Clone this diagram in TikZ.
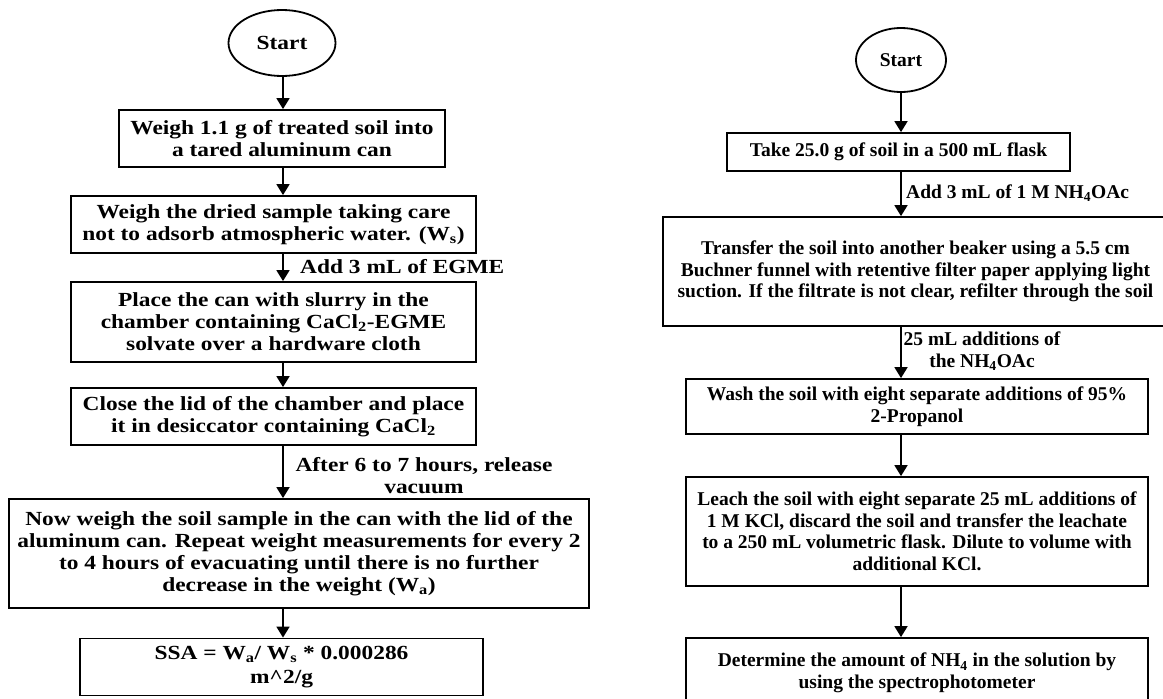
\documentclass[tikz,border=0pt]{standalone}
\usepackage{fontspec}
\setmainfont{Liberation Serif}
\newfontfamily\wideserif[FakeStretch=1.17]{Liberation Serif}
\usetikzlibrary{arrows.meta,shapes.geometric}

\begin{document}
\begin{tikzpicture}[x=1pt,y=-1pt,
  box/.style={draw, line width=1.8pt, inner sep=2pt, align=center},
  lfont/.style={font=\wideserif\bfseries\fontsize{20}{22}\selectfont},
  rfont/.style={font=\bfseries\fontsize{19.5}{21.5}\selectfont},
  lbox/.style={box, lfont},
  rbox/.style={box, rfont},
  term/.style={draw, ellipse, line width=1.8pt, inner sep=0pt},
  note/.style={inner sep=0pt, align=center},
  arr/.style={line width=1.8pt, -{Triangle[width=13pt,length=11pt]}}
]
\useasboundingbox (0,0) rectangle (1163,699);

% column axes for the connectors
\coordinate (colL) at (283,0);
\coordinate (colR) at (901,0);

% ---- left flow: specific surface area ----
\node[term, lfont, minimum width=107pt, minimum height=66pt] (s1) at (282,43) {Start};
\node[lbox, minimum width=326pt, minimum height=57pt] (b1) at (282,138.5)
  {Weigh 1.1 g of treated soil into\\a tared aluminum can};
\node[lbox, minimum width=405pt, minimum height=57pt] (b2) at (273.5,224.5)
  {Weigh the dried sample taking care\\not to adsorb atmospheric water. (W\textsubscript{s})};
\node[lbox, minimum width=405pt, minimum height=80pt] (b3) at (273.5,322)
  {Place the can with slurry in the\\chamber containing CaCl\textsubscript{2}-EGME\\solvate over a hardware cloth};
\node[lbox, minimum width=405pt, minimum height=57pt] (b4) at (273.5,416.5)
  {Close the lid of the chamber and place\\it in desiccator containing CaCl\textsubscript{2}};
\node[lbox, minimum width=580pt, minimum height=109pt] (b5) at (299,553.5)
  {Now weigh the soil sample in the can with the lid of the\\aluminum can. Repeat weight measurements for every 2\\to 4 hours of evacuating until there is no further\\decrease in the weight (W\textsubscript{a})};
\node[lbox, minimum width=403pt, minimum height=57pt] (b6) at (281.5,667)
  {SSA = W\textsubscript{a}/ W\textsubscript{s} * 0.000286\\[2pt]m\textasciicircum 2/g};

\draw[arr] (s1.south -| colL) -- (b1.north -| colL);
\draw[arr] (b1.south -| colL) -- (b2.north -| colL);
\draw[arr] (b2.south -| colL) -- (b3.north -| colL);
\draw[arr] (b3.south -| colL) -- (b4.north -| colL);
\draw[arr] (b4.south -| colL) -- (b5.north -| colL);
\draw[arr] (b5.south -| colL) -- (b6.north -| colL);

\node[note, lfont, anchor=west] (l1) at (300,267) {Add 3 mL of EGME};
\node[note, lfont] (l2) at (424,476) {After 6 to 7 hours, release\\vacuum};

% ---- right flow: cation exchange capacity ----
\node[term, rfont, minimum width=90pt, minimum height=64pt] (s2) at (901,60) {Start};
\node[rbox, minimum width=343pt, minimum height=38pt] (r1) at (898.5,152)
  {Take 25.0 g of soil in a 500 mL flask};
\node[rbox, minimum width=505pt, minimum height=109pt] (r2) at (915.5,271.5)
  {Transfer the soil into another beaker using a 5.5 cm\\Buchner funnel with retentive filter paper applying light\\suction. If the filtrate is not clear, refilter through the soil};
\node[rbox, minimum width=462pt, minimum height=55pt] (r3) at (917,406.5)
  {Wash the soil with eight separate additions of 95\%\\2-Propanol};
\node[rbox, minimum width=462pt, minimum height=109pt] (r4) at (917,531.5)
  {Leach the soil with eight separate 25 mL additions of\\1 M KCl, discard the soil and transfer the leachate\\to a 250 mL volumetric flask. Dilute to volume with\\additional KCl.};
\node[rbox, minimum width=462pt, minimum height=70pt] (r5) at (917,673)
  {Determine the amount of NH\textsubscript{4} in the solution by\\using the spectrophotometer};

\draw[arr] (s2.south -| colR) -- (r1.north -| colR);
\draw[arr] (r1.south -| colR) -- (r2.north -| colR);
\draw[arr] (r2.south -| colR) -- (r3.north -| colR);
\draw[arr] (r3.south -| colR) -- (r4.north -| colR);
\draw[arr] (r4.south -| colR) -- (r5.north -| colR);

\node[note, rfont, anchor=west] (l3) at (906,193) {Add 3 mL of 1 M NH\textsubscript{4}OAc};
\node[note, rfont] (l4) at (982,351) {25 mL additions of\\the NH\textsubscript{4}OAc};
\end{tikzpicture}
\end{document}
